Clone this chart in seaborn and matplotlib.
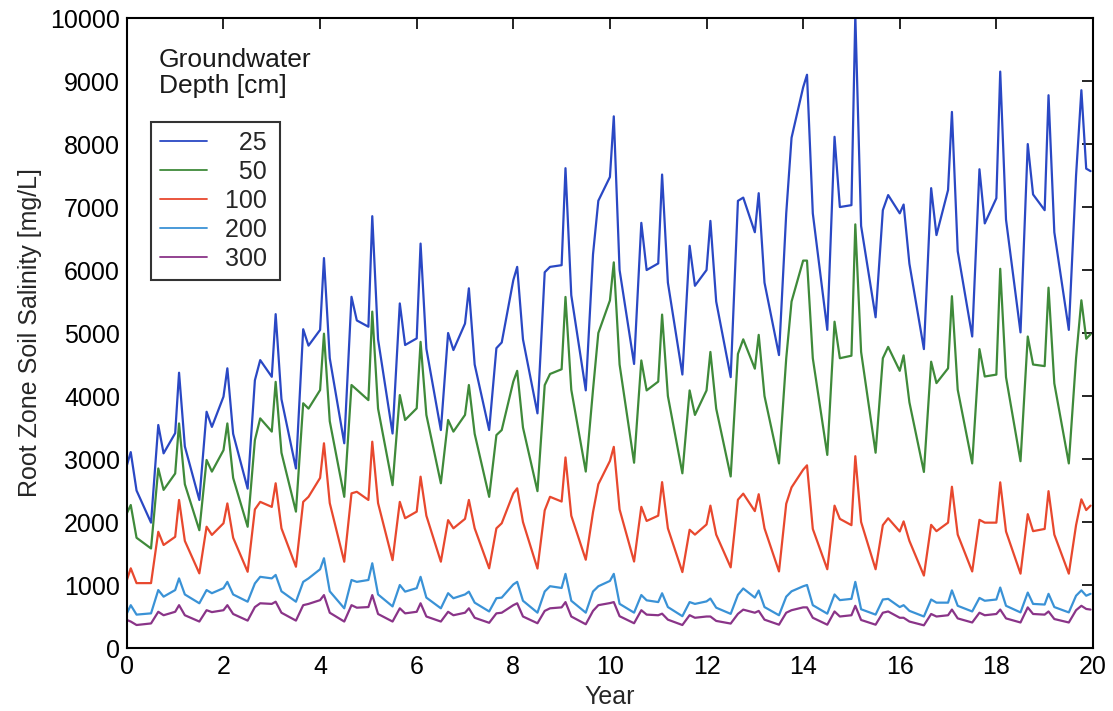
import numpy as np
import pandas as pd
import seaborn as sns
import matplotlib.pyplot as plt

# sampling points inside each year: start, peak, early decline, trough, first bump, dip
offsets = [0.0, 0.08, 0.2, 0.5, 0.65, 0.76]
year = [round(k + o, 2) for k in range(20) for o in offsets] + [19.86, 19.95]

# root zone salinity [mg/L], one line per year
d25 = [
    2900, 3110, 2500, 1990, 3540, 3090,
    3410, 4370, 3200, 2350, 3750, 3510,
    3990, 4440, 3400, 2530, 4250, 4570,
    4305, 5300, 3950, 2850, 5060, 4800,
    5050, 6190, 4600, 3250, 5575, 5200,
    5100, 6855, 4900, 3405, 5470, 4810,
    4915, 6420, 4750, 3460, 5000, 4730,
    5150, 5710, 4500, 3460, 4760, 4850,
    5840, 6050, 4900, 3725, 5965, 6050,
    6077, 7617, 5600, 4090, 6250, 7100,
    7477, 8440, 6000, 4509, 6749, 6000,
    6105, 7516, 5800, 4341, 6385, 5750,
    6000, 6780, 5500, 4300, 7098, 7150,
    6600, 7220, 5800, 4650, 6900, 8100,
    8900, 9100, 6900, 5050, 8115, 7000,
    7030, 10050, 6700, 5250, 6950, 7190,
    6900, 7040, 6100, 4745, 7300, 6555,
    7270, 8510, 6300, 4945, 7600, 6740,
    7140, 9150, 6800, 5010, 8000, 7200,
    6950, 8775, 6600, 5050, 7500, 8855,
    7610, 7570,
]
d50 = [
    2140, 2270, 1750, 1580, 2850, 2510,
    2770, 3565, 2600, 1870, 2985, 2800,
    3140, 3565, 2700, 1925, 3300, 3645,
    3435, 4225, 3100, 2165, 3885, 3800,
    4095, 4990, 3600, 2400, 4175, 4100,
    3935, 5340, 3800, 2585, 4015, 3620,
    3805, 4860, 3700, 2615, 3620, 3435,
    3700, 4175, 3400, 2400, 3380, 3460,
    4230, 4400, 3500, 2490, 4173, 4350,
    4425, 5573, 4100, 2801, 4100, 5000,
    5517, 6122, 4500, 2941, 4565, 4089,
    4229, 5293, 4000, 2773, 4089, 3700,
    4089, 4700, 3800, 2723, 4669, 4900,
    4434, 4971, 4000, 2930, 4600, 5500,
    6150, 6150, 4600, 3065, 5180, 4600,
    4640, 6725, 4700, 3100, 4600, 4780,
    4400, 4645, 3900, 2795, 4545, 4205,
    4440, 5585, 4100, 2930, 4745, 4310,
    4340, 6020, 4300, 2965, 4945, 4500,
    4475, 5720, 4200, 2930, 4600, 5520,
    4910, 4980,
]
d100 = [
    1080, 1265, 1030, 1030, 1845, 1635,
    1765, 2350, 1700, 1185, 1925, 1795,
    1980, 2295, 1750, 1210, 2200, 2320,
    2240, 2615, 1900, 1290, 2320, 2400,
    2700, 3250, 2300, 1370, 2455, 2480,
    2350, 3275, 2300, 1395, 2320, 2060,
    2165, 2720, 2100, 1370, 2030, 1900,
    2050, 2350, 1900, 1265, 1900, 1980,
    2455, 2535, 2000, 1261, 2185, 2400,
    2325, 3025, 2100, 1401, 2157, 2600,
    2969, 3193, 2200, 1373, 2241, 2017,
    2101, 2633, 1900, 1205, 1877, 1800,
    1961, 2260, 1800, 1280, 2354, 2450,
    2173, 2441, 1900, 1215, 2290, 2550,
    2830, 2900, 1890, 1250, 2260, 2050,
    1950, 3045, 2000, 1250, 1950, 2060,
    1850, 2010, 1700, 1150, 1955, 1855,
    1990, 2560, 1800, 1215, 2035, 1990,
    1990, 2630, 1850, 1180, 2125, 1855,
    1890, 2490, 1800, 1180, 1950, 2360,
    2190, 2260,
]
d200 = [
    550, 680, 530, 550, 920, 815,
    920, 1105, 850, 710, 920, 870,
    950, 1050, 850, 735, 1025, 1130,
    1105, 1160, 900, 735, 1050, 1105,
    1250, 1425, 900, 630, 1080, 1050,
    1080, 1345, 850, 660, 1000, 895,
    950, 1130, 800, 630, 870, 790,
    850, 895, 720, 580, 790, 800,
    1009, 1050, 750, 561, 897, 981,
    953, 1177, 750, 561, 897, 980,
    1065, 1177, 701, 561, 841, 757,
    729, 869, 650, 505, 729, 700,
    740, 785, 640, 542, 844, 945,
    800, 912, 650, 520, 815, 900,
    980, 1000, 680, 545, 850, 760,
    780, 1050, 615, 530, 770, 780,
    650, 680, 590, 500, 770, 720,
    720, 915, 670, 580, 795, 750,
    770, 960, 670, 565, 880, 700,
    690, 860, 650, 565, 830, 915,
    830, 860,
]
d300 = [
    445, 420, 365, 390, 575, 520,
    575, 680, 520, 420, 600, 570,
    600, 680, 540, 435, 650, 710,
    700, 735, 560, 435, 680, 700,
    760, 840, 560, 420, 680, 640,
    650, 840, 540, 420, 630, 550,
    575, 710, 500, 420, 575, 520,
    560, 630, 480, 400, 550, 560,
    680, 710, 500, 393, 589, 630,
    645, 729, 500, 377, 589, 680,
    713, 729, 505, 393, 600, 530,
    520, 545, 450, 365, 521, 480,
    500, 500, 430, 388, 542, 609,
    560, 589, 450, 370, 560, 600,
    645, 645, 480, 370, 580, 500,
    520, 670, 445, 370, 560, 580,
    480, 480, 420, 360, 540, 500,
    520, 610, 470, 405, 560, 520,
    540, 610, 470, 405, 645, 540,
    530, 580, 460, 405, 600, 670,
    620, 610,
]

depths = ["25", "50", "100", "200", "300"]
colors = ["#2a48c4", "#3f8a3a", "#e8482e", "#3a92d6", "#8a3488"]

df = pd.DataFrame({"Year": year, "25": d25, "50": d50, "100": d100,
                   "200": d200, "300": d300})
long = df.melt(id_vars="Year", var_name="Depth", value_name="Salinity")

sns.set_theme(style="white")
plt.rcParams["font.family"] = ["Liberation Sans", "DejaVu Sans"]

fig = plt.figure(figsize=(11.13, 7.11), dpi=100)
ax = fig.add_axes([0.114, 0.0886, 0.868, 0.886])

sns.lineplot(data=long, x="Year", y="Salinity", hue="Depth", hue_order=depths,
             palette=dict(zip(depths, colors)), linewidth=1.6, ax=ax)

ax.set_xlim(0, 20)
ax.set_ylim(0, 10000)
ax.set_xticks(np.arange(0, 21, 2))
ax.set_yticks(np.arange(0, 10001, 1000))
ax.tick_params(direction="in", length=8, width=1.2, top=True, right=True,
               labelsize=18, colors="black", pad=5)
for s in ax.spines.values():
    s.set_color("black")
    s.set_linewidth(1.5)
ax.set_xlabel("Year", fontsize=18, labelpad=4)
ax.set_ylabel("Root Zone Soil Salinity [mg/L]", fontsize=18, labelpad=6)

# right-align the depth labels with figure spaces, like the original legend
handles, labels = ax.get_legend_handles_labels()
labels = [lab.rjust(3, "\u2007") + "\u2009" for lab in labels]
leg = ax.legend(handles, labels, loc="upper left", bbox_to_anchor=(0.0248, 0.835),
                frameon=True, fancybox=False, edgecolor="black", fontsize=18,
                handlelength=1.9, handletextpad=0.7, borderpad=0.35,
                borderaxespad=0.0, labelspacing=0.2)
leg.get_frame().set_linewidth(1.5)
for line in leg.get_lines():
    line.set_linewidth(1.3)

ax.text(0.033, 0.952, "Groundwater\nDepth [cm]", transform=ax.transAxes,
        fontsize=19, va="top", ha="left", linespacing=1.1, color="#1a1a1a")

fig.savefig("out.png", dpi=100)
